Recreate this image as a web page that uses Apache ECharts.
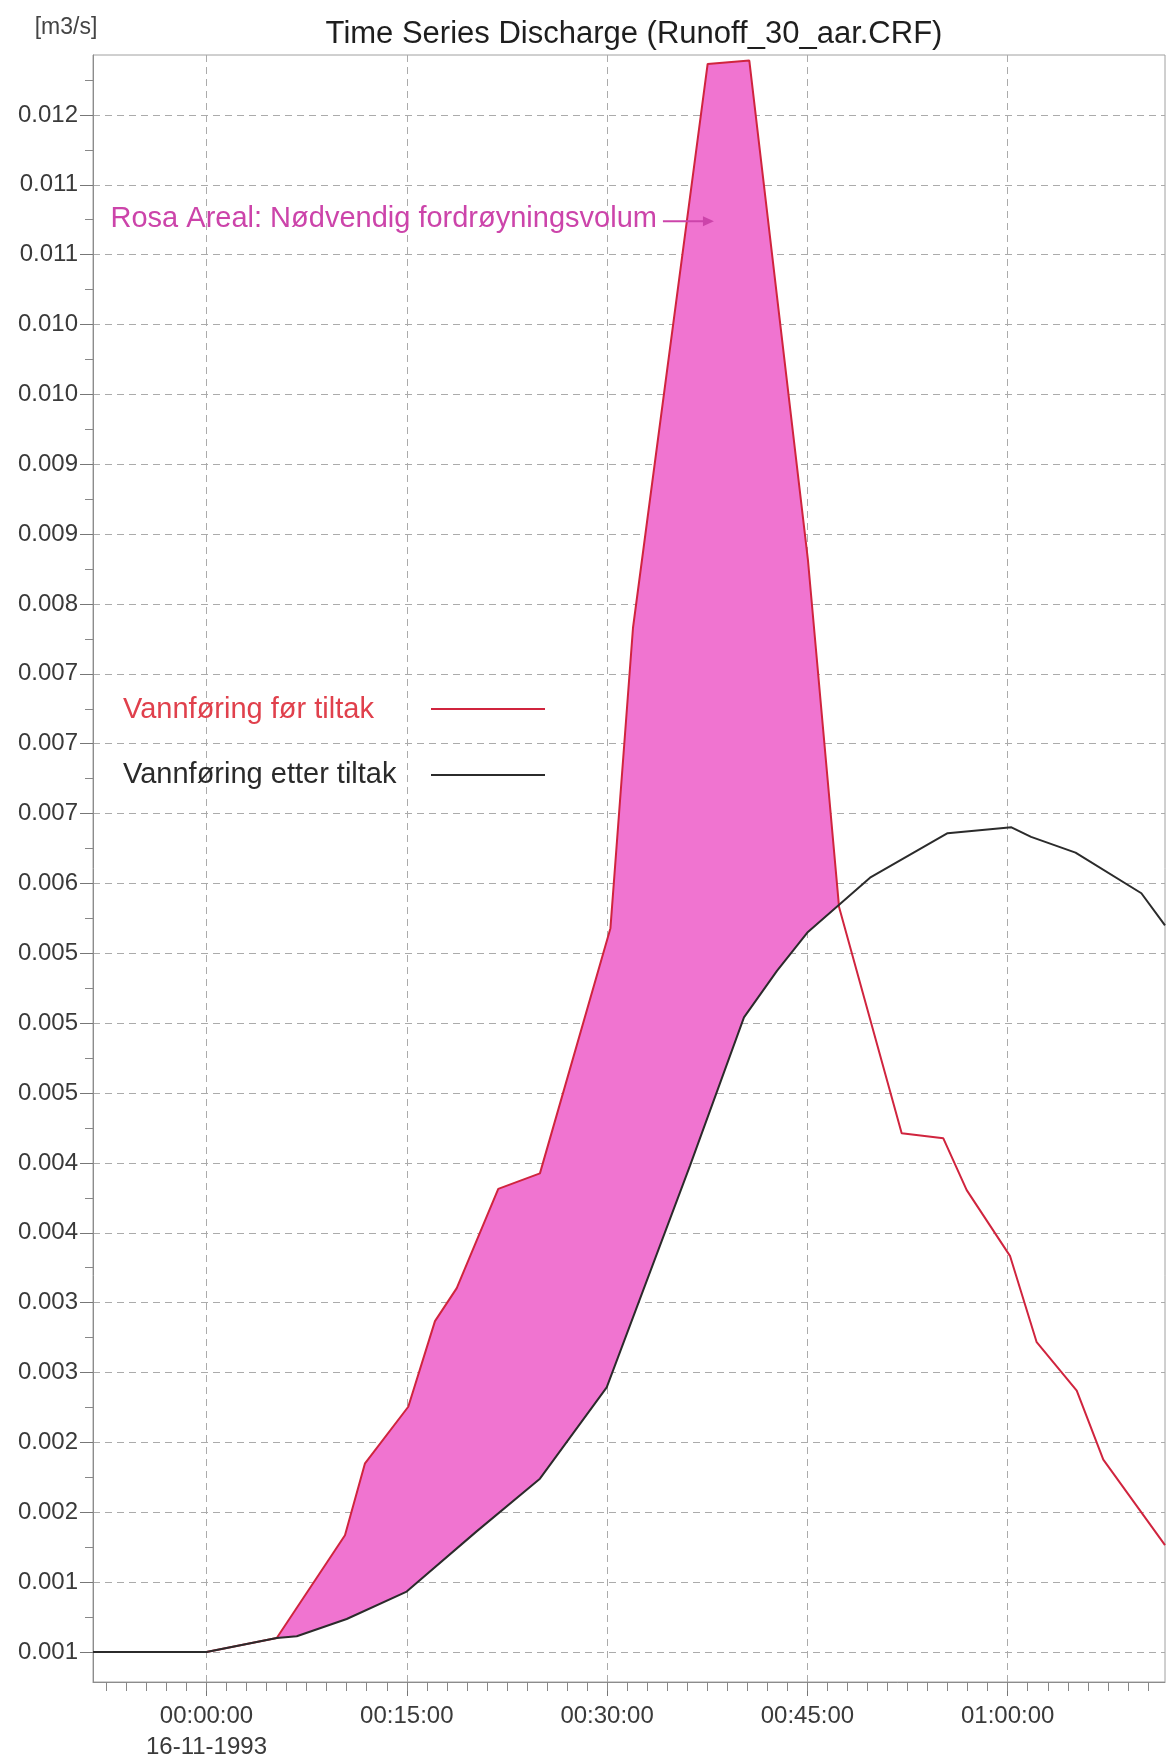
<!DOCTYPE html>
<html>
<head>
<meta charset="utf-8">
<title>Time Series Discharge</title>
<script src="https://cdn.jsdelivr.net/npm/echarts@6/dist/echarts.min.js"></script>
<style>
  html, body { margin: 0; padding: 0; background: #ffffff; }
  #chart { width: 1167px; height: 1763px; }
</style>
</head>
<body>
<div id="chart"></div>
<script>
// Discharge at the outlet. Time in minutes from 16-11-1993 00:00:00, flow in m3/s.
const timeBefore = [-8.5, 0, 5.26, 10.37, 11.87, 15.11, 17.11, 18.74, 21.85, 24.97, 30.25, 31.94, 37.53, 40.65, 45.04, 47.37, 52.06, 55.18, 56.93, 60.17, 62.17, 65.17, 67.16, 71.78];
const flowBefore = [0.00100, 0.00100, 0.00110, 0.001835, 0.00235, 0.002755, 0.003368, 0.003604, 0.004314, 0.004425, 0.00618, 0.00833, 0.012365, 0.012389, 0.008815, 0.006332, 0.004713, 0.004676, 0.004305, 0.003835, 0.003217, 0.00287, 0.002376, 0.001765];

const timeAfter = [-8.5, 0, 5.26, 6.76, 10.5, 14.99, 20.23, 24.97, 29.97, 36.21, 40.25, 42.72, 45.04, 49.69, 55.5, 60.28, 61.75, 65.08, 70.01, 71.78];
const flowAfter = [0.00100, 0.00100, 0.00110, 0.001112, 0.001236, 0.001432, 0.001863, 0.00224, 0.002894, 0.004481, 0.005542, 0.005874, 0.006153, 0.006541, 0.00686, 0.006902, 0.006833, 0.006721, 0.00643, 0.00620];

const seriesNames = ['Vannføring før tiltak', 'Vannføring etter tiltak'];
const chartTitle = 'Time Series Discharge (Runoff_30_aar.CRF)';
const unitLabel = '[m3/s]';
const areaNote = 'Rosa Areal: Nødvendig fordrøyningsvolum';
const areaNotePoint = [38.0, 0.01124]; // where the note's arrow points

// Axis ticks
const xTickValues = [0, 15, 30, 45, 60];
const xTickLabels = ['00:00:00\n16-11-1993', '00:15:00', '00:30:00', '00:45:00', '01:00:00'];
const xMinorTicks = [-7.5, -6, -4.5, -3, -1.5, 0, 1.5, 3, 4.5, 6, 7.5, 9, 10.5, 12, 13.5, 15, 16.5, 18, 19.5, 21, 22.5, 24, 25.5, 27, 28.5, 30, 31.5, 33, 34.5, 36, 37.5, 39, 40.5, 42, 43.5, 45, 46.5, 48, 49.5, 51, 52.5, 54, 55.5, 57, 58.5, 60, 61.5, 63, 64.5, 66, 67.5, 69, 70.5];

const yTickValues = [0.001, 0.0015, 0.002, 0.0025, 0.003, 0.0035, 0.004, 0.0045, 0.005, 0.0055, 0.006, 0.0065, 0.007, 0.0075, 0.008, 0.0085, 0.009, 0.0095, 0.010, 0.0105, 0.011, 0.0115, 0.012];
const yTickLabels = ['0.001', '0.001', '0.002', '0.002', '0.003', '0.003', '0.004', '0.004', '0.005', '0.005', '0.005', '0.006', '0.007', '0.007', '0.007', '0.008', '0.009', '0.009', '0.010', '0.010', '0.011', '0.011', '0.012'];
const yMinorTicks = [0.00125, 0.00175, 0.00225, 0.00275, 0.00325, 0.00375, 0.00425, 0.00475, 0.00525, 0.00575, 0.00625, 0.00675, 0.00725, 0.00775, 0.00825, 0.00875, 0.00925, 0.00975, 0.01025, 0.01075, 0.01125, 0.01175, 0.01225];

const X_MIN = -8.5, X_MAX = 71.78;
const Y_MIN = 0.000785, Y_MAX = 0.012429;

const FONT = '"Liberation Sans", Arial, Helvetica, sans-serif';
const RED = '#d0243e';
const BLACK = '#2b2b2b';
const PINK = '#f074d0';
const NOTE = '#cc44aa';
const GRIDLINE = { color: '#ababab', width: 1, type: [7, 5] };

function zip(ts, vs) { return ts.map((t, i) => [t, vs[i]]); }

function valueAt(ts, vs, t) {
  if (t <= ts[0]) return vs[0];
  for (let i = 1; i < ts.length; i++) {
    if (t <= ts[i]) {
      const f = (t - ts[i - 1]) / (ts[i] - ts[i - 1]);
      return vs[i - 1] + f * (vs[i] - vs[i - 1]);
    }
  }
  return vs[vs.length - 1];
}

// Times bounding the region where the flow before measures exceeds the flow after,
// including the points where the two hydrographs meet.
function retentionTimes() {
  const ts = Array.from(new Set(timeBefore.concat(timeAfter))).sort((a, b) => a - b);
  const diff = t => valueAt(timeBefore, flowBefore, t) - valueAt(timeAfter, flowAfter, t);
  const all = [];
  for (let i = 0; i < ts.length; i++) {
    if (i > 0) {
      const d0 = diff(ts[i - 1]), d1 = diff(ts[i]);
      if ((d0 > 0) !== (d1 > 0) && d0 !== d1 && d0 !== 0 && d1 !== 0) {
        all.push(ts[i - 1] + (ts[i] - ts[i - 1]) * d0 / (d0 - d1));
      }
    }
    all.push(ts[i]);
  }
  const eps = 1e-9;
  let s = all.findIndex(t => diff(t) > eps);
  let e = s;
  while (e < all.length && diff(all[e]) > eps) e++;
  return all.slice(Math.max(0, s - 1), Math.min(all.length, e + 1));
}
const fillTimes = retentionTimes();

function labelFor(values, labels, v) {
  const i = values.findIndex(x => Math.abs(x - v) < 1e-9);
  return i >= 0 ? labels[i] : '';
}

const chart = echarts.init(document.getElementById('chart'), null, { renderer: 'canvas' });

chart.setOption({
  animation: false,
  backgroundColor: '#ffffff',
  grid: {
    left: 93, right: 2, top: 55, bottom: 81,
    show: true, borderColor: '#a0a0a0', borderWidth: 1, backgroundColor: 'transparent'
  },
  xAxis: [{
    type: 'value', min: X_MIN, max: X_MAX, position: 'bottom',
    axisLine: { show: true, onZero: false, lineStyle: { color: '#8c8c8c', width: 1 } },
    axisTick: { show: true, customValues: xTickValues, length: 14, lineStyle: { color: '#777', width: 1 } },
    axisLabel: {
      show: true, customValues: xTickValues, margin: 19,
      fontFamily: FONT, fontSize: 24, color: '#3a3a3a', lineHeight: 31,
      formatter: v => labelFor(xTickValues, xTickLabels, v)
    },
    splitLine: { show: true, lineStyle: GRIDLINE }
  }, {
    type: 'value', min: X_MIN, max: X_MAX, position: 'bottom',
    axisLine: { show: false, onZero: false },
    axisTick: { show: true, customValues: xMinorTicks, length: 9, lineStyle: { color: '#888', width: 1 } },
    axisLabel: { show: false },
    splitLine: { show: false }
  }],
  yAxis: [{
    type: 'value', min: Y_MIN, max: Y_MAX, position: 'left',
    axisLine: { show: true, onZero: false, lineStyle: { color: '#8c8c8c', width: 1 } },
    axisTick: { show: true, customValues: yTickValues, length: 13, lineStyle: { color: '#777', width: 1 } },
    axisLabel: {
      show: true, customValues: yTickValues, margin: 15,
      fontFamily: FONT, fontSize: 24, color: '#3a3a3a',
      formatter: v => labelFor(yTickValues, yTickLabels, v)
    },
    splitLine: { show: true, lineStyle: GRIDLINE }
  }, {
    type: 'value', min: Y_MIN, max: Y_MAX, position: 'left',
    axisLine: { show: false, onZero: false },
    axisTick: { show: true, customValues: yMinorTicks, length: 8, lineStyle: { color: '#888', width: 1 } },
    axisLabel: { show: false },
    splitLine: { show: false }
  }],
  series: [{
    // Required retention volume: area between the two hydrographs
    type: 'custom',
    name: 'retention',
    xAxisIndex: 0, yAxisIndex: 0,
    data: [[fillTimes[0], flowAfter[0]]],
    z: 1,
    silent: true,
    renderItem: (params, api) => {
      const upper = fillTimes.map(t => api.coord([t, valueAt(timeBefore, flowBefore, t)]));
      const lower = fillTimes.slice().reverse().map(t => api.coord([t,
        Math.min(valueAt(timeBefore, flowBefore, t), valueAt(timeAfter, flowAfter, t))]));
      return {
        type: 'polygon',
        shape: { points: upper.concat(lower) },
        style: { fill: PINK, stroke: null }
      };
    }
  }, {
    type: 'line',
    name: seriesNames[0],
    xAxisIndex: 0, yAxisIndex: 0,
    data: zip(timeBefore, flowBefore),
    symbol: 'none',
    z: 3,
    lineStyle: { color: RED, width: 2 }
  }, {
    type: 'line',
    name: seriesNames[1],
    xAxisIndex: 0, yAxisIndex: 0,
    data: zip(timeAfter, flowAfter),
    symbol: 'none',
    z: 4,
    lineStyle: { color: BLACK, width: 2 }
  }]
});

// Title, unit, legend and the note on the shaded area
const tip = chart.convertToPixel({ gridIndex: 0 }, areaNotePoint);
const arrowLen = 51;
chart.setOption({
  graphic: [
    { type: 'text', x: 634, y: 34, style: { text: chartTitle, font: '31px ' + FONT, fill: '#1e1e1e', textAlign: 'center', textVerticalAlign: 'middle' } },
    { type: 'text', x: 66, y: 28, style: { text: unitLabel, font: '23px ' + FONT, fill: '#444', textAlign: 'center', textVerticalAlign: 'middle' } },

    { type: 'text', x: 123, y: 710, style: { text: seriesNames[0], font: '29px ' + FONT, fill: '#e0404c', textAlign: 'left', textVerticalAlign: 'middle' } },
    { type: 'line', shape: { x1: 431, y1: 709, x2: 545, y2: 709 }, style: { stroke: RED, lineWidth: 2 } },
    { type: 'text', x: 123, y: 775, style: { text: seriesNames[1], font: '29px ' + FONT, fill: '#2a2a2a', textAlign: 'left', textVerticalAlign: 'middle' } },
    { type: 'line', shape: { x1: 431, y1: 775, x2: 545, y2: 775 }, style: { stroke: BLACK, lineWidth: 2 } },

    { type: 'text', x: tip[0] - arrowLen - 6, y: tip[1] - 2, style: { text: areaNote, font: '29px ' + FONT, fill: NOTE, textAlign: 'right', textVerticalAlign: 'middle' } },
    { type: 'line', z: 10, shape: { x1: tip[0] - arrowLen, y1: tip[1], x2: tip[0] - 6, y2: tip[1] }, style: { stroke: NOTE, lineWidth: 2 } },
    { type: 'polygon', z: 10, shape: { points: [[tip[0], tip[1]], [tip[0] - 11, tip[1] - 5], [tip[0] - 11, tip[1] + 5]] }, style: { fill: NOTE } }
  ]
});
</script>
</body>
</html>
